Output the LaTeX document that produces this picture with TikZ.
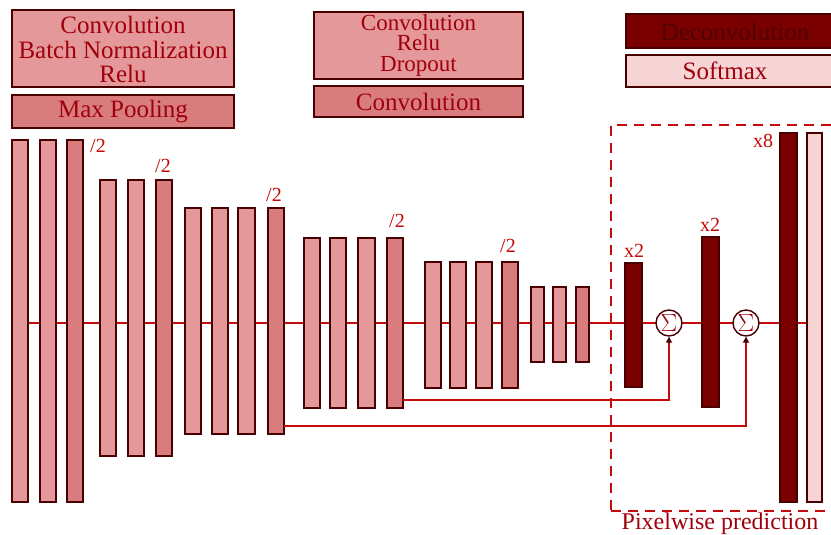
\documentclass[tikz,border=0pt]{standalone}
\usepackage{fontspec}
\setmainfont{Liberation Serif}
\usetikzlibrary{arrows.meta}
\pgfdeclarelayer{bg}
\pgfsetlayers{bg,main}
\definecolor{lightf}{RGB}{228,152,154}
\definecolor{darkf}{RGB}{216,124,126}
\definecolor{deconvf}{RGB}{122,0,0}
\definecolor{softf}{RGB}{246,212,212}
\definecolor{edge}{RGB}{72,0,0}
\definecolor{linered}{RGB}{196,10,10}
\definecolor{txtred}{RGB}{160,0,12}
\definecolor{darktxt}{RGB}{80,0,0}
\tikzset{
  barbase/.style={draw=edge, line width=1.4pt, inner sep=0pt, outer sep=0pt},
  convbar/.style={barbase, fill=lightf},
  poolbar/.style={barbase, fill=darkf},
  deconvbar/.style={barbase, fill=deconvf},
  softbar/.style={barbase, fill=softf},
  legendbox/.style={draw=edge, line width=1.4pt, inner sep=0pt, outer sep=0pt},
  legendtxt/.style={text=txtred, align=center, inner sep=0pt, font=\fontsize{25}{25}\selectfont},
  halflbl/.style={text=linered, inner sep=0pt, font=\fontsize{20}{20}\selectfont},
  mainline/.style={draw=linered, line width=1.8pt},
  skipline/.style={draw=linered, line width=1.3pt, -{Triangle[length=6pt,width=6pt,color=edge]}},
  sigmanode/.style={circle, draw=edge, line width=1.4pt, fill=white, minimum size=26pt, inner sep=0pt, text=txtred, font=\fontsize{23}{23}\selectfont},
  predbox/.style={draw=linered, line width=1.6pt, dash pattern=on 10pt off 7pt, inner sep=0pt},
}
\newcommand\mybar[6]{\node[#6, minimum width={#3-#2}, minimum height={#5-#4}] (#1) at ({(#2+#3)/2},{(#4+#5)/2}) {};}
\begin{document}
\begin{tikzpicture}[x=1pt,y=-1pt]
\useasboundingbox (0,0) rectangle (831,535);
\clip (0,0) rectangle (831,535);
% legend
\node[legendbox, fill=lightf, minimum width=222, minimum height=77] (L1) at (123,48.5) {};
\node[legendtxt, font=\fontsize{25}{24.5}\selectfont] (L1t) at (123,49.5) {Convolution\\Batch Normalization\\Relu};
\node[legendbox, fill=darkf, minimum width=222, minimum height=33] (L2) at (123,111.5) {};
\node[legendtxt] (L2t) at (123,111.5) {Max Pooling};
\node[legendbox, fill=lightf, minimum width=209, minimum height=67] (L3) at (418.5,45.5) {};
\node[legendtxt, font=\fontsize{23}{20.5}\selectfont] (L3t) at (418.5,45) {Convolution\\Relu\\Dropout};
\node[legendbox, fill=darkf, minimum width=209, minimum height=31] (L4) at (418.5,101.5) {};
\node[legendtxt] (L4t) at (418.5,101.5) {Convolution};
\node[legendbox, fill=deconvf, minimum width=220, minimum height=34] (L5) at (736,31) {};
\node[legendtxt, text=darktxt] (L5t) at (735,32) {Deconvolution};
\node[legendbox, fill=softf, minimum width=220, minimum height=32] (L6) at (736,71) {};
\node[legendtxt] (L6t) at (725,71) {Softmax};
% prediction box
\node[predbox, minimum width=240, minimum height=386] (pred) at (731,318) {};
\node[legendtxt, font=\fontsize{24}{24}\selectfont] (predt) at (720,524) {Pixelwise prediction};
% encoder bars
\mybar{b11}{12}{28}{140}{502}{convbar}
\mybar{b12}{40}{56}{140}{502}{convbar}
\mybar{b13}{67}{83}{140}{502}{poolbar}
\mybar{b21}{100}{116}{180}{456}{convbar}
\mybar{b22}{128}{144}{180}{456}{convbar}
\mybar{b23}{156}{172}{180}{456}{poolbar}
\mybar{b31}{185}{201}{208}{434}{convbar}
\mybar{b32}{212}{228}{208}{434}{convbar}
\mybar{b33}{238}{255}{208}{434}{convbar}
\mybar{b34}{268}{284}{208}{434}{poolbar}
\mybar{b41}{304}{320}{238}{408}{convbar}
\mybar{b42}{330}{346}{238}{408}{convbar}
\mybar{b43}{358}{375}{238}{408}{convbar}
\mybar{b44}{387}{403}{238}{408}{poolbar}
\mybar{b51}{425}{441}{262}{388}{convbar}
\mybar{b52}{450}{466}{262}{388}{convbar}
\mybar{b53}{476}{492}{262}{388}{convbar}
\mybar{b54}{502}{518}{262}{388}{poolbar}
\mybar{b61}{531}{544}{287}{362}{convbar}
\mybar{b62}{553}{566}{287}{362}{convbar}
\mybar{b63}{576}{589}{287}{362}{poolbar}
% decoder
\mybar{d1}{625}{642}{263}{387}{deconvbar}
\mybar{d2}{702}{719}{237}{407}{deconvbar}
\mybar{d3}{780}{797}{133}{502}{deconvbar}
\mybar{sm}{807}{822}{133}{502}{softbar}
\node[sigmanode] (s1) at (669,323) {$\Sigma$};
\node[sigmanode] (s2) at (746,323) {$\Sigma$};
% labels
\node[halflbl] (h1) at (98,146) {/2};
\node[halflbl] (h2) at (163,166) {/2};
\node[halflbl] (h3) at (274,195) {/2};
\node[halflbl] (h4) at (397,221) {/2};
\node[halflbl] (h5) at (508,246) {/2};
\node[halflbl] (u1) at (634,251) {x2};
\node[halflbl] (u2) at (710,225) {x2};
\node[halflbl] (u3) at (763,141) {x8};
% connectors
\begin{pgfonlayer}{bg}
\draw[mainline] (b11.east |- s1) -- (sm.center |- s1);
\end{pgfonlayer}
\draw[skipline] (b44.south east) ++(0,-8) -| (s1.south);
\draw[skipline] (b34.south east) ++(0,-8) -| (s2.south);
\end{tikzpicture}
\end{document}
